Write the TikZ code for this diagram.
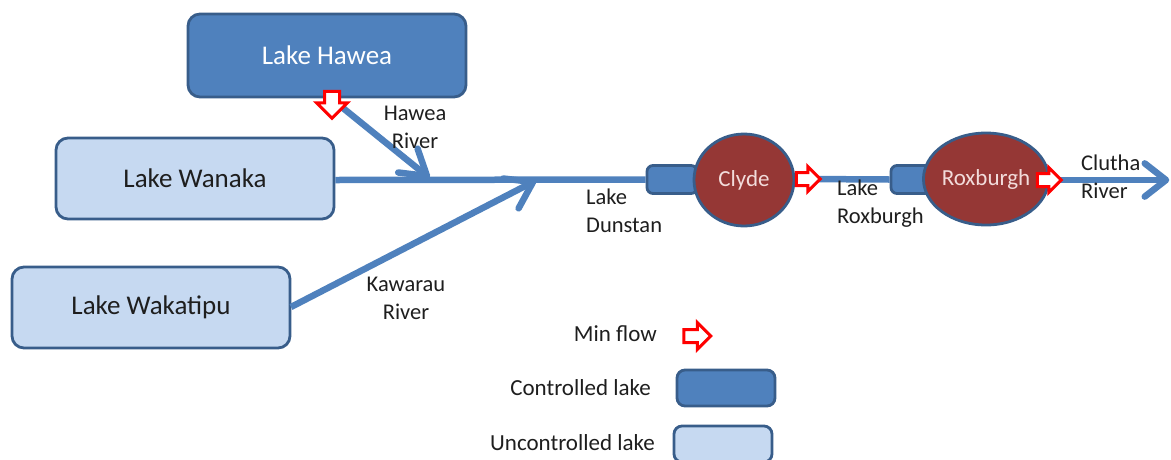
\documentclass[tikz,border=0pt]{standalone}
\usepackage{fontspec}
\setmainfont{Carlito}
\usetikzlibrary{calc,shapes.geometric,shapes.arrows}

\definecolor{riverblue}{HTML}{4F81BD}
\definecolor{edgeblue}{HTML}{385D8A}
\definecolor{lightlake}{HTML}{C6D9F1}
\definecolor{damred}{HTML}{953735}
\definecolor{damtext}{HTML}{F2DCDB}
\definecolor{inktext}{HTML}{1E1E1E}

\tikzset{
  lakebox/.style={draw=edgeblue, line width=2.8pt, rounded corners=12pt},
  controlled/.style={lakebox, fill=riverblue},
  uncontrolled/.style={lakebox, fill=lightlake},
  dam/.style={ellipse, draw=edgeblue, line width=2.8pt, fill=damred,
    text=damtext, font=\fontsize{23}{26}\selectfont, inner sep=0pt},
  river/.style={draw=riverblue, line width=6.5pt},
  barb/.style={draw=riverblue, line width=6.5pt, line cap=round, line join=round},
  minflow/.style={single arrow, draw=red, fill=white, line width=3pt,
    inner sep=5pt, single arrow head extend=6pt, minimum height=24pt},
  label/.style={text=inktext, font=\fontsize{22.5}{28}\selectfont, align=left, inner sep=0pt},
  legend/.style={text=inktext, font=\fontsize{23}{26}\selectfont, inner sep=0pt},
}
% open arrowhead at #1, pointing away from #2
\newcommand{\riverhead}[4]{%
  \path[barb] ($(#1)!#3!#4:(#2)$) -- (#1) -- ($(#1)!#3!-#4:(#2)$);}

\begin{document}
\begin{tikzpicture}[x=1pt,y=-1pt]
\useasboundingbox (0,0) rectangle (1171,459);

% lakes
\node[controlled, minimum width=278pt, minimum height=83pt, text=white,
  font=\fontsize{27}{30}\selectfont] (hawea) at (327,55.5) {Lake Hawea};
\node[uncontrolled, minimum width=278pt, minimum height=81pt, text=inktext,
  font=\fontsize{27}{30}\selectfont] (wanaka) at (195,178.5) {Lake Wanaka};
\node[uncontrolled, minimum width=278pt, minimum height=81pt, text=inktext,
  font=\fontsize{27}{30}\selectfont] (wakatipu) at (151,307.5) {Lake Wakatipu};

% river junctions
\coordinate (hwtip) at (427,176);
\coordinate (kwtip) at (533,182);
\coordinate (wkout) at (291,307);
\coordinate (sea) at (1166,180);

% storage lakes
\node[controlled, rounded corners=6pt, minimum width=50pt, minimum height=28pt] (dunstan) at (672,179.5) {};
\node[controlled, rounded corners=6pt, minimum width=48pt, minimum height=28pt] (roxlake) at (915,179.5) {};

% rivers (drawn under the dams)
\path[river] (wanaka.east |- 0,180) -- (dunstan.west);
\path[river] (wkout) -- (kwtip);
\riverhead{kwtip}{wkout}{30pt}{34}

% dams
\node[dam, minimum width=100pt, minimum height=92pt] (clyde) at (744,180) {Clyde};
\node[dam, minimum width=102pt, minimum height=92pt] (roxburgh) at (986,179) {Roxburgh};

% minimum flow release points
\coordinate (hwflow) at (332,101);
\coordinate (clflow) at (805,179);
\coordinate (rxflow) at (1046,180);
\coordinate (hwstart) at (338,104);

\path[river] (hwstart) -- (hwtip);
\riverhead{hwtip}{hwstart}{29pt}{32}
\path[river] (clflow) -- (roxlake.west);
\path[river] (rxflow) -- (sea);
\riverhead{sea}{rxflow}{27pt}{38}

% minimum flow markers, above the rivers
\node[minflow, shape border rotate=270, inner sep=6pt, single arrow head extend=8pt, minimum height=27pt] (hwmark) at (hwflow) {};
\node[minflow] (clmark) at (clflow) {};
\node[minflow] (rxmark) at (rxflow) {};

% river labels
\node[label, align=center] (hwlabel) at (415,127) {Hawea\\River};
\node[label, align=center] (kwlabel) at (406,298) {Kawarau\\River};
\node[label, anchor=west] (dnlabel) at (586,211) {Lake\\Dunstan};
\node[label, anchor=west] (rxlabel) at (837,204) {Lake\\Roxburgh};
\node[label, anchor=west] (ctlabel) at (1081,177) {Clutha\\River};

% legend
\node[legend, anchor=east] (lgflow) at (657,334) {Min flow};
\node[minflow, minimum height=27pt, single arrow head extend=7pt] (lgarrow) at (694,336) {};
\node[legend, anchor=east] (lgctl) at (651,388) {Controlled lake};
\node[controlled, rounded corners=8pt, minimum width=98pt, minimum height=36pt] (lgctlbox) at (726,388) {};
\node[legend, anchor=east] (lgunc) at (655,443) {Uncontrolled lake};
\node[uncontrolled, rounded corners=8pt, minimum width=98pt, minimum height=36pt] (lguncbox) at (723,444) {};
\end{tikzpicture}
\end{document}
